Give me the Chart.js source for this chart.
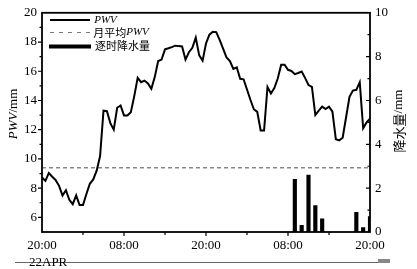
<!DOCTYPE html>
<html>
<head>
<meta charset="utf-8">
<script src="https://cdn.jsdelivr.net/npm/chart.js@4.4.1/dist/chart.umd.min.js"></script>
<style>
  html, body { margin: 0; padding: 0; background: #fff; }
</style>
</head>
<body>
<canvas id="grafico" width="417" height="269"></canvas>
<script>
// horas desde 20:00 de 22APR, dados a cada 30 min
const pwvStep = 0.5;
const pwv = [
  8.73, 8.5, 9.04, 8.78, 8.55, 8.16, 7.5, 7.86, 7.2, 6.9,
  7.5, 6.84, 6.84, 7.6, 8.3, 8.6, 9.2, 10.2, 13.3, 13.27,
  12.45, 12.0, 13.5, 13.66, 12.98, 12.98, 13.2, 14.3, 15.55, 15.25,
  15.36, 15.16, 14.8, 15.6, 16.7, 16.8, 17.5, 17.57, 17.65, 17.75,
  17.72, 17.7, 16.8, 17.3, 17.6, 18.3, 17.1, 16.73, 17.9, 18.5,
  18.7, 18.68, 18.15, 17.55, 16.95, 16.7, 16.16, 16.27, 15.48, 15.45,
  14.75, 14.05, 13.4, 13.22, 11.95, 11.95, 14.92, 14.48, 14.85, 15.5,
  16.45, 16.45, 16.1, 16.02, 15.8, 15.88, 15.98, 15.55, 15.05, 14.93,
  13.0, 13.3, 13.58, 13.41, 13.57, 13.23, 11.35, 11.27, 11.45, 12.85,
  14.25, 14.68, 14.73, 15.25, 12.1, 12.5, 12.75
];
const pwvMedia = 9.4;

const chuvaHoras = [37, 38, 39, 40, 41, 46, 47, 48];
const chuva = [2.4, 0.3, 2.6, 1.2, 0.6, 0.9, 0.2, 0.7];

const xLabels = ['20:00', '08:00', '20:00', '08:00', '20:00'];
const dataLabel = '22APR';
const serif = "'Liberation Serif', 'DejaVu Serif', serif";
const cjk = "'Noto Sans CJK SC', sans-serif";

function textoPartes(ctx, partes, cx, cy, rot) {
  ctx.save();
  ctx.translate(cx, cy);
  ctx.rotate(rot);
  let total = 0;
  partes.forEach(p => { ctx.font = p.font; total += ctx.measureText(p.text).width; });
  let x = -total / 2;
  ctx.textBaseline = 'middle';
  ctx.textAlign = 'left';
  ctx.fillStyle = '#000';
  partes.forEach(p => {
    ctx.font = p.font;
    ctx.fillText(p.text, x, 0);
    x += ctx.measureText(p.text).width;
  });
  ctx.restore();
}

const extras = {
  id: 'extras',
  afterDraw(chart) {
    const ctx = chart.ctx;
    const a = chart.chartArea;
    const sx = chart.scales.x, sy = chart.scales.y, sy2 = chart.scales.y2;
    ctx.save();
    ctx.strokeStyle = '#000';
    ctx.lineWidth = 1.8;
    ctx.strokeRect(a.left, a.top, a.right - a.left, a.bottom - a.top);

    ctx.lineWidth = 1.2;
    ctx.beginPath();
    for (let v = 6; v < 20; v++) {
      const y = sy.getPixelForValue(v);
      const len = v % 2 === 0 ? 4 : 2.5;
      ctx.moveTo(a.left - len, y); ctx.lineTo(a.left, y);
    }
    for (let v = 1; v < 10; v++) {
      const y = sy2.getPixelForValue(v);
      const len = v % 2 === 0 ? 4 : 2.5;
      ctx.moveTo(a.right - len, y); ctx.lineTo(a.right, y);
    }
    for (let h = 6; h < 48; h += 6) {
      const x = sx.getPixelForValue(h);
      const len = h % 12 === 0 ? 4 : 3;
      ctx.moveTo(x, a.bottom); ctx.lineTo(x, a.bottom + len);
    }
    ctx.stroke();

    // legenda
    const lx0 = 50, lx1 = 90, tx = 95;
    ctx.lineWidth = 1.8;
    ctx.beginPath(); ctx.moveTo(lx0, 20); ctx.lineTo(lx1, 20); ctx.stroke();
    ctx.strokeStyle = '#777';
    ctx.lineWidth = 1.2;
    ctx.setLineDash([4, 5]);
    ctx.beginPath(); ctx.moveTo(lx0, 32.5); ctx.lineTo(lx1, 32.5); ctx.stroke();
    ctx.setLineDash([]);
    ctx.fillStyle = '#000';
    ctx.fillRect(49, 44.5, 42, 4);
    textoPartes(ctx, [{ text: 'PWV', font: 'italic 11px ' + serif }], tx + 10.5, 20, 0);
    textoPartes(ctx, [{ text: '月平均', font: '11px ' + cjk }, { text: 'PWV', font: 'italic 11px ' + serif }], tx + 26, 32.5, 0);
    textoPartes(ctx, [{ text: '逐时降水量', font: '11px ' + cjk }], tx + 27.5, 46, 0);

    // títulos dos eixos
    textoPartes(ctx, [{ text: 'PWV', font: 'italic 13px ' + serif }, { text: '/mm', font: '13px ' + serif }], 14, 114, -Math.PI / 2);
    textoPartes(ctx, [{ text: '降水量', font: '13px ' + cjk }, { text: '/mm', font: '13px ' + serif }], 399, 121, -Math.PI / 2);

    // data e linha de baixo
    ctx.strokeStyle = '#666';
    ctx.lineWidth = 1;
    ctx.beginPath(); ctx.moveTo(15, 262.5); ctx.lineTo(380, 262.5); ctx.stroke();
    ctx.fillStyle = '#888';
    ctx.fillRect(378, 259, 12, 4);
    ctx.fillStyle = '#000';
    ctx.font = '13px ' + serif;
    ctx.textAlign = 'left';
    ctx.textBaseline = 'alphabetic';
    ctx.fillText(dataLabel, 29, 265.5);
    ctx.restore();
  }
};

const tickFont = { family: serif, size: 13 };

new Chart(document.getElementById('grafico'), {
  data: {
    datasets: [
      {
        type: 'line',
        label: 'PWV',
        data: pwv.map((v, i) => ({ x: i * pwvStep, y: v })),
        borderColor: '#000',
        borderWidth: 2,
        pointRadius: 0,
        tension: 0,
        yAxisID: 'y'
      },
      {
        type: 'line',
        label: '月平均PWV',
        data: [{ x: 0, y: pwvMedia }, { x: 48, y: pwvMedia }],
        borderColor: '#888',
        borderWidth: 1.5,
        borderDash: [4, 3],
        pointRadius: 0,
        yAxisID: 'y'
      },
      {
        type: 'bar',
        label: '逐时降水量',
        data: chuvaHoras.map((h, i) => ({ x: h, y: chuva[i] })),
        backgroundColor: '#000',
        barThickness: 3.5,
        yAxisID: 'y2'
      }
    ]
  },
  options: {
    responsive: false,
    animation: false,
    layout: { padding: { top: 12, left: 0, right: 0, bottom: 0 } },
    plugins: { legend: { display: false }, tooltip: { enabled: false } },
    scales: {
      x: {
        type: 'linear',
        min: 0,
        max: 48,
        offset: false,
        grid: { display: false, drawTicks: false, offset: false },
        border: { display: false },
        ticks: {
          stepSize: 12,
          autoSkip: false,
          maxRotation: 0,
          padding: 6,
          color: '#000',
          font: tickFont,
          callback: v => xLabels[v / 12]
        },
        afterFit: s => { s.height = 37; }
      },
      y: {
        position: 'left',
        min: 5,
        max: 20,
        grid: { display: false, drawTicks: false },
        border: { display: false },
        ticks: {
          stepSize: 2,
          autoSkip: false,
          padding: 5,
          color: '#000',
          font: tickFont,
          callback: v => (v % 2 === 0 ? v : '')
        },
        afterFit: s => { s.width = 42; }
      },
      y2: {
        position: 'right',
        min: 0,
        max: 10,
        grid: { display: false, drawTicks: false },
        border: { display: false },
        ticks: {
          stepSize: 2,
          autoSkip: false,
          padding: 5,
          color: '#000',
          font: tickFont
        },
        afterFit: s => { s.width = 47; }
      }
    }
  },
  plugins: [extras]
});
</script>
</body>
</html>
